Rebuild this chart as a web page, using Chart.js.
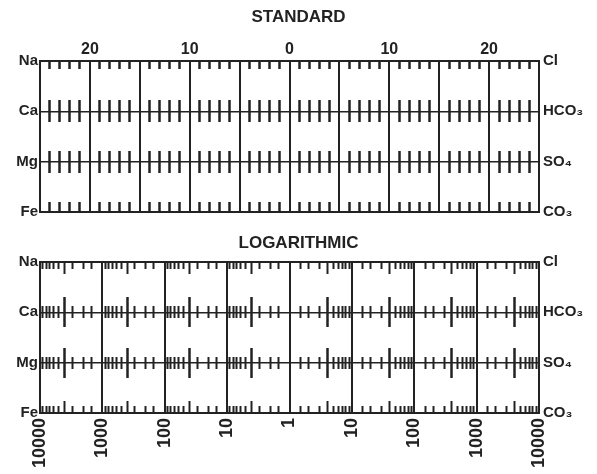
<!DOCTYPE html>
<html>
<head>
<meta charset="utf-8">
<script src="https://cdn.jsdelivr.net/npm/chart.js@4/dist/chart.umd.min.js"></script>
<style>
  html, body { margin: 0; padding: 0; background: #ffffff; }
  #wrap { position: relative; width: 597px; height: 474px; background: #ffffff; }
  #c1 { position: absolute; left: 0; top: 0; }
  #c2 { position: absolute; left: 0; top: 230px; }
</style>
</head>
<body>
<div id="wrap">
  <canvas id="c1" width="597" height="230"></canvas>
  <canvas id="c2" width="597" height="244"></canvas>
</div>
<script>
// ---- data (categories, tick labels) ----
const cations = ['Na', 'Ca', 'Mg', 'Fe'];
const anions = ['Cl', 'HCO\u2083', 'SO\u2084', 'CO\u2083'];
const standardMin = -25;
const standardMax = 25;
const standardMajorStep = 5;
const standardMinorStep = 1;
const standardLabelValues = [-20, -10, 0, 10, 20];
const standardTickLabels = ['20', '10', '0', '10', '20'];
const logDecades = [-4, -3, -2, -1, 0, 1, 2, 3, 4];
const logTickLabels = ['10000', '1000', '100', '10', '1', '10', '100', '1000', '10000'];
const logMinorMantissas = [1.5, 2, 3, 5, 6, 7, 8, 9];
const logLongMantissas = [4];

// ---- helpers ----
const INK = '#222222';
const FONT = "'Liberation Sans', 'DejaVu Sans', sans-serif";

function range(a, b, step) {
  const out = [];
  for (let v = a; v <= b + 1e-9; v += step) out.push(v);
  return out;
}
const standardMajors = range(standardMin, standardMax, standardMajorStep);
const standardMinors = range(standardMin, standardMax, standardMinorStep).filter(v => v % standardMajorStep !== 0);

function logPositions(mantissas) {
  const out = [];
  for (let k = 0; k < 4; k++) {
    mantissas.forEach(m => {
      const p = k + Math.log10(m);
      out.push(-p, p);
    });
  }
  return out.sort((a, b) => a - b);
}
const logMinor = logPositions(logMinorMantissas);
const logLong = logPositions(logLongMantissas);

function tickRow(row, len, values, min, max, width) {
  return {
    type: 'linear', axis: 'x', position: { y: row }, min: min, max: max,
    afterBuildTicks: s => { s.ticks = values.map(v => ({ value: v })); },
    ticks: { display: false },
    grid: { display: true, drawOnChartArea: false, drawTicks: true, tickLength: len, tickWidth: width || 2.5, tickColor: INK },
    border: { display: false }
  };
}

function yAxes() {
  return {
    y: {
      type: 'category', labels: cations, position: 'left', offset: false,
      afterFit: s => { s.width = 40; },
      grid: { color: INK, lineWidth: c => (c.index === 0 || c.index === cations.length - 1) ? 2 : 1.5, drawTicks: false },
      border: { display: true, color: INK, width: 2 },
      ticks: { color: INK, font: { family: FONT, size: 15, weight: 'bold' }, padding: 2 }
    },
    y2: {
      type: 'category', labels: anions, position: 'right', offset: false,
      afterFit: s => { s.width = 58; },
      grid: { drawOnChartArea: false, drawTicks: false },
      border: { display: true, color: INK, width: 2 },
      ticks: { color: INK, font: { family: FONT, size: 15, weight: 'bold' }, padding: 4 }
    }
  };
}

// ---- STANDARD ----
const stdScales = Object.assign({
  x: {
    type: 'linear', position: 'top', min: standardMin, max: standardMax,
    afterBuildTicks: s => { s.ticks = standardMajors.map(v => ({ value: v })); },
    afterFit: s => { s.height = 33.6; },
    ticks: {
      autoSkip: false, maxRotation: 0, color: INK, padding: 2,
      font: { family: FONT, size: 16, weight: 'bold' },
      callback: v => { const i = standardLabelValues.indexOf(v); return i >= 0 ? standardTickLabels[i] : ''; }
    },
    grid: { color: INK, lineWidth: 2, drawTicks: false },
    border: { display: true, color: INK, width: 2 }
  },
  xNa: tickRow(0, 8, standardMinors, standardMin, standardMax),
  xCaUp: tickRow(1, -11, standardMinors, standardMin, standardMax),
  xCaDn: tickRow(1, 11, standardMinors, standardMin, standardMax),
  xMgUp: tickRow(2, -11, standardMinors, standardMin, standardMax),
  xMgDn: tickRow(2, 11, standardMinors, standardMin, standardMax),
  xFe: tickRow(3, -10, standardMinors, standardMin, standardMax)
}, yAxes());

new Chart(document.getElementById('c1'), {
  type: 'line',
  data: { datasets: [] },
  options: {
    responsive: false, animation: false, devicePixelRatio: 1,
    layout: { padding: { left: 0, right: 0, top: 0, bottom: 18 } },
    plugins: {
      legend: { display: false }, tooltip: { enabled: false },
      title: { display: true, text: 'STANDARD', color: INK, font: { family: FONT, size: 17, weight: 'bold' }, padding: { top: 7, bottom: 0 } }
    },
    scales: stdScales
  }
});

// ---- LOGARITHMIC ----
const logScales = Object.assign({
  x: {
    type: 'linear', position: 'bottom', min: logDecades[0], max: logDecades[logDecades.length - 1],
    afterBuildTicks: s => { s.ticks = logDecades.map(v => ({ value: v })); },
    afterFit: s => { s.height = 61; },
    ticks: {
      autoSkip: false, minRotation: 90, maxRotation: 90, color: INK, padding: 5,
      font: { family: FONT, size: 18, weight: 'bold' },
      callback: (v, i) => logTickLabels[i]
    },
    grid: { color: INK, lineWidth: 2, drawTicks: false },
    border: { display: true, color: INK, width: 2 }
  },
  xNa: tickRow(0, 7, logMinor, -4, 4, 2),
  xNaL: tickRow(0, 12, logLong, -4, 4, 2),
  xCaUp: tickRow(1, -6, logMinor, -4, 4, 2),
  xCaDn: tickRow(1, 6, logMinor, -4, 4, 2),
  xCaLUp: tickRow(1, -15, logLong, -4, 4, 2.5),
  xCaLDn: tickRow(1, 15, logLong, -4, 4, 2.5),
  xMgUp: tickRow(2, -6, logMinor, -4, 4, 2),
  xMgDn: tickRow(2, 6, logMinor, -4, 4, 2),
  xMgLUp: tickRow(2, -15, logLong, -4, 4, 2.5),
  xMgLDn: tickRow(2, 15, logLong, -4, 4, 2.5),
  xFe: tickRow(3, -7, logMinor, -4, 4, 2),
  xFeL: tickRow(3, -12, logLong, -4, 4, 2)
}, yAxes());

new Chart(document.getElementById('c2'), {
  type: 'line',
  data: { datasets: [] },
  options: {
    responsive: false, animation: false, devicePixelRatio: 1,
    layout: { padding: 0 },
    plugins: {
      legend: { display: false }, tooltip: { enabled: false },
      title: { display: true, text: 'LOGARITHMIC', color: INK, font: { family: FONT, size: 17, weight: 'bold' }, padding: { top: 3, bottom: 8.6 } }
    },
    scales: logScales
  }
});
</script>
</body>
</html>
